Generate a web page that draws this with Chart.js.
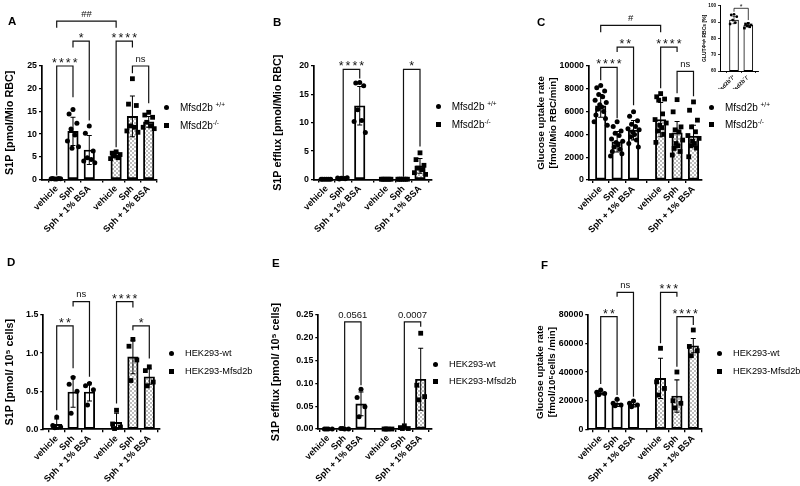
<!DOCTYPE html>
<html>
<head>
<meta charset="utf-8">
<script src="https://cdn.jsdelivr.net/npm/chart.js@4.4.1/dist/chart.umd.min.js"></script>
<style>
  body { margin: 0; width: 800px; height: 486px; overflow: hidden; position: relative; background: #fff;
         font-family: "Liberation Sans", Arial, sans-serif; color: #000; }
  canvas { position: absolute; left: 0; top: 0; }
  .tag { position: absolute; font-weight: bold; font-size: 11.5px; line-height: 12px; }
  .leg { position: absolute; font-size: 10px; line-height: 11px; white-space: nowrap; }
  .leg.cell { font-size: 9.2px; }
  .leg sup { font-size: 6.5px; vertical-align: 4px; line-height: 0; }
  .mk { position: absolute; width: 5px; height: 5px; background: #000; }
</style>
</head>
<body>
<script>
const family = "'Liberation Sans', Arial, sans-serif";

// categories
const groups = ["vehicle", "Sph", "Sph + 1% BSA", "vehicle", "Sph", "Sph + 1% BSA"];
const xPos = [1, 2, 3, 4.65, 5.65, 6.65];
const mouseLegend = ["Mfsd2b <sup>+/+</sup>", "Mfsd2b<sup>-/-</sup>"];
const cellLegend = ["HEK293-wt", "HEK293-Mfsd2b"];

// A - S1P in RBC
const aTicks = ["0", "5", "10", "15", "20", "25"];
const aMean = [0.15, 10.6, 6.5, 5.4, 13.9, 12.7];
const aSD = [0.05, 3.1, 3.2, 0.6, 4.5, 1.2];
const aPts = [
  [0.1, 0.2, 0.15, 0.1, 0.2, 0.15],
  [15.4, 14.4, 12.4, 11.1, 9.8, 8.5, 7.2, 6.9],
  [11.8, 10.2, 6.3, 4.8, 4.4, 4.1, 3.7],
  [6.1, 5.8, 5.5, 5.2, 4.8, 4.6],
  [22.2, 16.6, 16.3, 11.8, 11.5, 10.7, 10.4],
  [14.8, 14.2, 13.7, 12.6, 11.8, 11.5, 11.2]
];
const aBrackets = [
  [0, 3, 34.9, 33.4, 33.4, "##"],
  [1, 2, 30.5, 29.1, 13, "*"],
  [3, 4, 30.5, 7.1, 29.1, "****"],
  [0, 1, 25, 0.9, 18.1, "****"],
  [4, 5, 25, 23.4, 16.8, "ns"]
];

// B - S1P efflux
const bTicks = ["0", "5", "10", "15", "20"];
const bMean = [0.05, 0.2, 13.0, 0.05, 0.05, 2.4];
const bSD = [0.02, 0.1, 3.4, 0.02, 0.02, 1.3];
const bPts = [
  [0.05, 0.05, 0.05, 0.05, 0.05, 0.05],
  [0.2, 0.1, 0.3, 0.2, 0.15, 0.25],
  [17.1, 17.0, 16.5, 12.3, 10.4, 10.2, 8.3],
  [0.05, 0.05, 0.05, 0.05, 0.05, 0.05],
  [0.05, 0.05, 0.05, 0.05, 0.05, 0.05],
  [4.7, 3.5, 2.5, 2.0, 1.75, 1.2, 0.9]
];
const bBrackets = [
  [1, 2, 19.4, 0.5, 17.8, "****"],
  [4, 5, 19.4, 0.5, 5.8, "*"]
];

// C - glucose uptake RBC
const cTicks = ["0", "2000", "4000", "6000", "8000", "10000"];
const cMean = [6500, 3350, 4370, 5300, 4140, 3850];
const cSD = [1000, 900, 850, 1500, 1000, 950];
const cPts = [
  [8300, 8100, 7800, 7500, 7300, 7000, 6800, 6600, 6400, 6200, 6000, 5700, 5400, 5100, 4800],
  [5100, 4700, 4300, 4100, 3900, 3600, 3400, 3300, 3100, 2900, 2700, 2500, 2300, 2100],
  [5980, 5600, 5200, 4900, 4700, 4500, 4400, 4200, 4000, 3800, 3500, 3200, 2900],
  [7580, 7300, 7100, 7000, 5800, 5300, 5000, 4800, 4600, 4300, 4000, 3300],
  [7050, 5980, 4660, 4400, 4230, 3900, 3500, 3200, 3000, 2770, 2500, 2190],
  [6850, 6120, 5250, 4660, 4230, 3900, 3650, 3400, 3200, 3000, 2800, 2040]
];
const cBrackets = [
  [0, 3, 13557, 12970, 12970, "#"],
  [1, 2, 11660, 11220, 6560, "**"],
  [3, 4, 11660, 8050, 11220, "****"],
  [0, 1, 9880, 8750, 5420, "****"],
  [4, 5, 9530, 7600, 7350, "ns"]
];

// C inset - GLUT4 high RBCs
const gLabels = ["Mfsd2b\u207A/\u207A", "Mfsd2b\u207B/\u207B"];
const gTicks = ["60", "70", "80", "90", "100"];
const gMean = [91.2, 88.2];
const gSD = [2.2, 1.1];
const gPts = [
  [94.7, 94.3, 93.3, 91.2, 89.6, 88.8],
  [89.2, 88.8, 88.2, 87.6, 87.1, 86.3]
];
const gBrackets = [[0, 1, 98.4, 96.3, 91.2, "*"]];

// D - S1P in HEK293
const dTicks = ["0.0", "0.5", "1.0", "1.5"];
const dMean = [0.065, 0.49, 0.49, 0.09, 0.95, 0.69];
const dSD = [0.07, 0.2, 0.12, 0.12, 0.22, 0.1];
const dPts = [
  [0.16, 0.05, 0.03, 0.02],
  [0.68, 0.59, 0.5, 0.21],
  [0.6, 0.57, 0.52, 0.32],
  [0.25, 0.07, 0.03, 0.01],
  [1.18, 1.09, 0.91, 0.64],
  [0.82, 0.77, 0.62, 0.57]
];
const dBrackets = [
  [0, 1, 1.356, 0.25, 0.8, "**"],
  [1, 2, 1.675, 1.61, 0.69, "ns"],
  [3, 4, 1.675, 0.34, 1.6, "****"],
  [4, 5, 1.356, 1.3, 0.93, "*"]
];

// E - S1P efflux HEK293
const eTicks = ["0.00", "0.05", "0.10", "0.15", "0.20", "0.25"];
const eMean = [0, 0.001, 0.055, 0, 0.003, 0.109];
const eSD = [0, 0.0005, 0.026, 0, 0.003, 0.068];
const ePts = [
  [0, 0, 0, 0],
  [0, 0.001, 0, 0.001],
  [0.087, 0.069, 0.049, 0.027],
  [0, 0, 0, 0],
  [0.007, 0.003, 0.001, 0.001],
  [0.21, 0.096, 0.071, 0.064]
];
const eBrackets = [
  [1, 2, 0.235, 0.005, 0.096, "0.0561"],
  [4, 5, 0.235, 0.009, 0.224, "0.0007"]
];

// F - glucose uptake HEK293
const fTicks = ["0", "20000", "40000", "60000", "80000"];
const fMean = [25650, 18200, 17700, 35600, 23300, 58500];
const fSD = [1500, 2300, 2000, 14100, 11300, 5000];
const fPts = [
  [27500, 26000, 25000, 24100],
  [21000, 18200, 17000, 16500],
  [19800, 18200, 17000, 15800],
  [56700, 33200, 28600, 24000],
  [40100, 20000, 18200, 15000],
  [69500, 58000, 55000, 51500]
];
const fBrackets = [
  [0, 1, 78800, 31700, 24000, "**"],
  [1, 2, 95900, 92800, 22800, "ns"],
  [3, 4, 95900, 60200, 92800, "***"],
  [4, 5, 78800, 43800, 73000, "****"]
];

const spread = [0, -0.24, 0.24, -0.12, 0.12, -0.34, 0.34, -0.06, 0.06, -0.18, 0.18, -0.29, 0.29, -0.4, 0.4];

const base = {
  x: xPos, labels: groups, titleSize: 10.8, tickSize: 8.8, labelSize: 9, barW: 10.5, bw: 1.9,
  dot: 2.5, sq: 3.4, cap: 2.5, axisW: 1.7, tl: 3, xH: 55, starSize: 12.5, textSize: 9.5, lw: 1.2, jit: 1,
  fill: [false, false, false, true, true, true], square: [false, false, false, true, true, true]
};

function annotate(p) {
  return {
    id: "annot",
    afterDatasetDraw(chart, args) {
      if (args.index !== 2) return;
      const { ctx, scales: { x, y } } = chart;
      ctx.save();
      ctx.strokeStyle = "#000";
      ctx.lineWidth = p.lw * 0.85;
      p.mean.forEach((m, i) => {
        const s = p.sd[i];
        if (!s) return;
        const px = x.getPixelForValue(p.x[i]);
        const t = y.getPixelForValue(m + s);
        const b = y.getPixelForValue(Math.max(m - s, y.min));
        ctx.beginPath();
        ctx.moveTo(px, b); ctx.lineTo(px, t);
        ctx.moveTo(px - p.cap, t); ctx.lineTo(px + p.cap, t);
        ctx.moveTo(px - p.cap, b); ctx.lineTo(px + p.cap, b);
        ctx.stroke();
      });
      ctx.restore();
    },
    afterDraw(chart) {
      const { ctx, scales: { x, y } } = chart;
      ctx.save();
      ctx.strokeStyle = "#111";
      ctx.fillStyle = "#111";
      ctx.lineWidth = p.lw;
      p.brackets.forEach(([i, j, v, li, lj, label]) => {
        const x1 = x.getPixelForValue(p.x[i]);
        const x2 = x.getPixelForValue(p.x[j]);
        const yy = y.getPixelForValue(v);
        ctx.beginPath();
        ctx.moveTo(x1, y.getPixelForValue(li));
        ctx.lineTo(x1, yy);
        ctx.lineTo(x2, yy);
        ctx.lineTo(x2, y.getPixelForValue(lj));
        ctx.stroke();
        const star = /^\*+$/.test(label);
        ctx.textAlign = "center";
        ctx.textBaseline = "alphabetic";
        if (star) {
          ctx.font = p.starSize + "px " + family;
          ctx.letterSpacing = p.starGap + "px";
          ctx.fillText(label, (x1 + x2) / 2 + p.starGap / 2, yy + p.starSize * 0.08);
        } else {
          ctx.font = p.textSize + "px " + family;
          ctx.letterSpacing = "0px";
          ctx.fillText(label, (x1 + x2) / 2, yy - p.textSize * 0.45);
        }
      });
      ctx.restore();
    }
  };
}

function panel(cfg) {
  const p = Object.assign({}, base, { starGap: 2 }, cfg);
  const cv = document.createElement("canvas");
  cv.width = 800; cv.height = 486;
  document.body.appendChild(cv);
  const ctx = cv.getContext("2d");

  const tile = document.createElement("canvas");
  tile.width = 4; tile.height = 4;
  const tg = tile.getContext("2d");
  tg.fillStyle = "#fff"; tg.fillRect(0, 0, 4, 4);
  tg.fillStyle = "#bdbdbd"; tg.fillRect(0, 0, 2, 2); tg.fillRect(2, 2, 2, 2);
  const checks = ctx.createPattern(tile, "repeat");

  const n = p.x.length;
  const unit = (p.last - p.first) / (p.x[n - 1] - p.x[0]);
  const xMin = p.x[0] - (p.first - p.left) / unit;
  const xMax = p.x[n - 1] + (p.right - p.last) / unit;
  const lh = p.titleSize * 1.15;
  const padLeft = p.titleX - lh / 2;
  const yVals = p.ticks.map(Number);

  const pts = (sq) => {
    const out = [];
    p.pts.forEach((arr, i) => {
      if (p.square[i] !== sq) return;
      arr.forEach((v, k) => out.push({ x: p.x[i] + spread[k % spread.length] * p.jit, y: v }));
    });
    return out;
  };

  new Chart(cv, {
    type: "bar",
    data: {
      datasets: [
        { type: "scatter", data: pts(false), pointStyle: "circle", pointRadius: p.dot, backgroundColor: "#000",
          borderWidth: 0, clip: false, order: 0 },
        { type: "scatter", data: pts(true), pointStyle: "rect", pointRadius: p.sq, backgroundColor: "#000",
          borderWidth: 0, clip: false, order: 0 },
        { type: "bar", data: p.mean.map((m, i) => ({ x: p.x[i], y: m })), base: yVals[0],
          backgroundColor: p.mean.map((m, i) => (p.fill[i] ? checks : "#fff")),
          borderColor: "#000", borderWidth: p.bw, borderSkipped: false, barThickness: p.barW,
          clip: false, order: 1 }
      ]
    },
    options: {
      responsive: false, animation: false, events: [],
      layout: { padding: { left: padLeft, top: p.top, right: 800 - p.right, bottom: 486 - p.bottom - p.xH } },
      plugins: { legend: { display: false }, tooltip: { enabled: false } },
      scales: {
        x: {
          type: "linear", min: xMin, max: xMax, offset: false,
          afterBuildTicks: (s) => { s.ticks = p.x.map((v) => ({ value: v })); },
          afterFit: (s) => { s.height = p.xH; },
          grid: { display: true, drawOnChartArea: false, drawTicks: true, tickLength: p.tl, color: "#000", lineWidth: p.axisW * 0.8 },
          border: { display: true, color: "#000", width: p.axisW },
          ticks: { autoSkip: false, minRotation: 45, maxRotation: 45, padding: 1, color: "#000",
                   font: { family, size: p.labelSize, weight: "bold" }, callback: (v, i) => p.labels[i] }
        },
        y: {
          type: "linear", min: yVals[0], max: yVals[yVals.length - 1],
          afterBuildTicks: (s) => { s.ticks = yVals.map((v) => ({ value: v })); },
          afterFit: (s) => { s.width = p.left - padLeft; },
          grid: { display: true, drawOnChartArea: false, drawTicks: true, tickLength: p.tl, color: "#000", lineWidth: p.axisW * 0.8 },
          border: { display: true, color: "#000", width: p.axisW },
          ticks: { padding: 2, color: "#000", font: { family, size: p.tickSize, weight: "bold" },
                   callback: (v, i) => p.ticks[i] },
          title: { display: true, text: p.title, padding: 0, color: "#000",
                   font: { family, size: p.titleSize, weight: "bold", lineHeight: 1.15 } }
        }
      }
    },
    plugins: [annotate(p)]
  });
}

panel({ left: 42, right: 157, top: 66, bottom: 179.5, first: 56.7, last: 148.7, titleX: 10,
        title: "S1P [pmol/Mio RBC]", ticks: aTicks, mean: aMean, sd: aSD, pts: aPts, brackets: aBrackets });
panel({ left: 314, right: 431.7, top: 66, bottom: 179.5, first: 326.7, last: 420, titleX: 278.5,
        title: "S1P efflux [pmol/Mio RBC]", ticks: bTicks, mean: bMean, sd: bSD, pts: bPts, brackets: bBrackets });
panel({ left: 589, right: 701.7, top: 66, bottom: 180, first: 600.7, last: 693.5, titleX: 541.7, titleSize: 9.8,
        title: ["Glucose uptake rate", "[fmol/Mio RBC/min]"], ticks: cTicks, mean: cMean, sd: cSD, pts: cPts,
        brackets: cBrackets });
panel({ left: 720, right: 758, top: 5.7, bottom: 71, first: 734, last: 748.3, x: [1, 2], labels: gLabels,
        titleX: 705, title: "GLUT4\u02B0\u2071\u1D4D\u02B0 RBCs [%]", titleSize: 5, tickSize: 4.6, labelSize: 5.6,
        barW: 9, bw: 1, dot: 1.4, sq: 1.9, cap: 1.5, axisW: 1, tl: 2, xH: 18, starSize: 7, starGap: 0, textSize: 6,
        lw: 0.8, jit: 0.8, fill: [false, false], square: [false, true],
        ticks: gTicks, mean: gMean, sd: gSD, pts: gPts, brackets: gBrackets });
panel({ left: 43.3, right: 159.3, top: 315, bottom: 429.3, first: 56.7, last: 149.3, titleX: 10,
        title: "S1P [pmol/ 10\u2075 cells]", ticks: dTicks, mean: dMean, sd: dSD, pts: dPts, brackets: dBrackets });
panel({ left: 318.3, right: 431.7, top: 315, bottom: 429, first: 328.3, last: 420.7, titleX: 276.5,
        title: "S1P efflux [pmol/ 10\u2075 cells]", ticks: eTicks, mean: eMean, sd: eSD, pts: ePts, brackets: eBrackets });
panel({ left: 588.3, right: 701.7, top: 315, bottom: 429.3, first: 600.7, last: 693.3, titleX: 540.7, titleSize: 9.8,
        title: ["Glucose uptake rate", "[fmol/10\u2075cells /min]"], ticks: fTicks, mean: fMean, sd: fSD, pts: fPts,
        brackets: fBrackets });

// panel letters
[["A", 8, 21], ["B", 273, 21.5], ["C", 537, 21.5], ["D", 7, 261.5], ["E", 272, 263], ["F", 541, 265]].forEach(([t, x, y]) => {
  const d = document.createElement("div");
  d.className = "tag"; d.textContent = t;
  d.style.left = x + "px"; d.style.top = (y - 6) + "px";
  document.body.appendChild(d);
});

// legends
[
  { mx: 166.7, tx: 180, ys: [107.3, 125], names: mouseLegend, cls: "leg" },
  { mx: 438.3, tx: 451.7, ys: [106.7, 124], names: mouseLegend, cls: "leg" },
  { mx: 711.7, tx: 725, ys: [107.3, 124], names: mouseLegend, cls: "leg" },
  { mx: 171.7, tx: 185, ys: [353.3, 371], names: cellLegend, cls: "leg cell" },
  { mx: 435.7, tx: 449, ys: [364, 381], names: cellLegend, cls: "leg cell" },
  { mx: 719.3, tx: 733, ys: [353.3, 371], names: cellLegend, cls: "leg cell" }
].forEach((l) => {
  l.names.forEach((name, k) => {
    const m = document.createElement("div");
    m.className = "mk";
    m.style.left = (l.mx - 2.5) + "px"; m.style.top = (l.ys[k] - 2.5) + "px";
    if (k === 0) m.style.borderRadius = "50%";
    document.body.appendChild(m);
    const t = document.createElement("div");
    t.className = l.cls; t.innerHTML = name;
    t.style.left = l.tx + "px"; t.style.top = (l.ys[k] - 5.5) + "px";
    document.body.appendChild(t);
  });
});
</script>
</body>
</html>
